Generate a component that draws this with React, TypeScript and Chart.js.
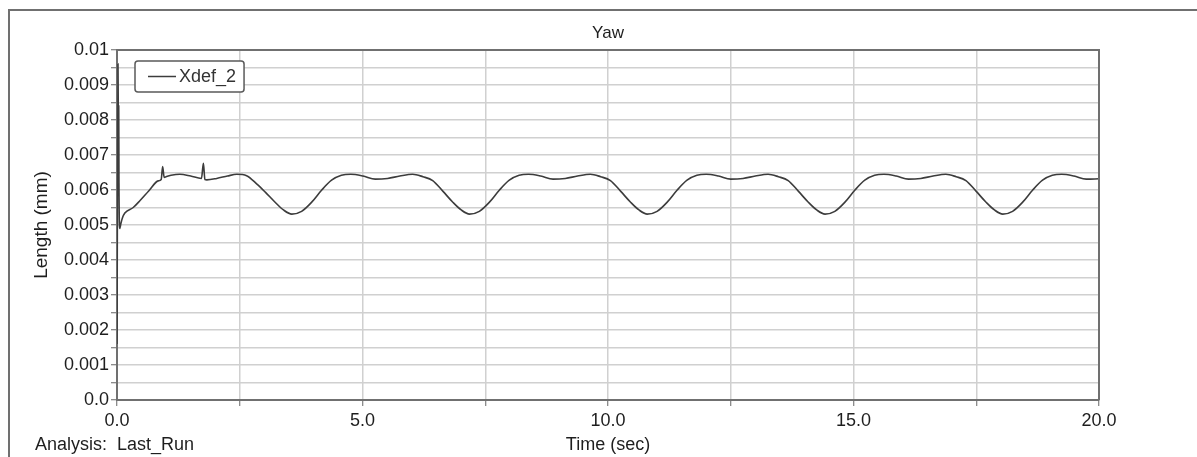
import React, { useEffect, useRef } from "react";
import { Chart, registerables } from "chart.js";

Chart.register(...registerables);

const FONT = "'Liberation Sans', Arial, Helvetica, sans-serif";

const chartTitle = "Yaw";
const xTitle = "Time (sec)";
const yTitle = "Length (mm)";
const seriesLabel = "Xdef_2";
const analysisLabel = "Analysis:  Last_Run";

const timeSec = [
  0, 0.02, 0.025, 0.03, 0.035, 0.04, 0.055, 0.08, 0.11, 0.16, 0.33, 0.47, 0.65, 0.84, 0.9, 0.93, 0.96, 1.0,
  1.1, 1.28, 1.5, 1.72, 1.76, 1.79, 1.83, 2.03, 2.25, 2.44, 2.64, 2.85, 3.02, 3.22, 3.39, 3.56, 3.76, 3.97,
  4.17, 4.37, 4.57, 4.76, 5.01, 5.26, 5.51, 5.76, 6.02, 6.23, 6.43, 6.64, 6.84, 7.01, 7.18, 7.38, 7.59, 7.79,
  7.99, 8.19, 8.38, 8.63, 8.88, 9.13, 9.38, 9.64, 9.85, 10.05, 10.26, 10.46, 10.63, 10.8, 11.0, 11.21, 11.41,
  11.61, 11.81, 12.0, 12.25, 12.5, 12.75, 13.0, 13.26, 13.47, 13.67, 13.88, 14.08, 14.25, 14.42, 14.62, 14.83,
  15.03, 15.23, 15.43, 15.62, 15.87, 16.12, 16.37, 16.62, 16.88, 17.09, 17.29, 17.5, 17.7, 17.87, 18.04, 18.24,
  18.45, 18.65, 18.85, 19.05, 19.24, 19.49, 19.74, 20.0,
];

const xdef2 = [
  0.0016, 0.0096, 0.0085, 0.0063, 0.0084, 0.0062, 0.0049, 0.00505, 0.0052, 0.00534, 0.0055, 0.0057, 0.00598,
  0.00626, 0.0063, 0.00667, 0.00636, 0.00638, 0.00642, 0.00645, 0.0064, 0.00633, 0.00676, 0.0063, 0.00629,
  0.00633, 0.0064, 0.00645, 0.00641, 0.00617, 0.00594, 0.00565, 0.00543, 0.00531, 0.00539, 0.00566, 0.006,
  0.00628, 0.00642, 0.00645, 0.0064, 0.00631, 0.00633, 0.0064, 0.00645, 0.00638, 0.00627, 0.00596, 0.00565,
  0.00543, 0.00531, 0.00539, 0.00566, 0.006, 0.00628, 0.00642, 0.00645, 0.0064, 0.00631, 0.00633, 0.0064,
  0.00645, 0.00638, 0.00627, 0.00596, 0.00565, 0.00543, 0.00531, 0.00539, 0.00566, 0.006, 0.00628, 0.00642,
  0.00645, 0.0064, 0.00631, 0.00633, 0.0064, 0.00645, 0.00638, 0.00627, 0.00596, 0.00565, 0.00543, 0.00531,
  0.00539, 0.00566, 0.006, 0.00628, 0.00642, 0.00645, 0.0064, 0.00631, 0.00633, 0.0064, 0.00645, 0.00638,
  0.00627, 0.00596, 0.00565, 0.00543, 0.00531, 0.00539, 0.00566, 0.006, 0.00628, 0.00642, 0.00645, 0.0064,
  0.00631, 0.00632,
];

const xTickValues = [0, 2.5, 5, 7.5, 10, 12.5, 15, 17.5, 20];
const xTickLabels = ["0.0", "", "5.0", "", "10.0", "", "15.0", "", "20.0"];

const yTickValues = [
  0, 0.0005, 0.001, 0.0015, 0.002, 0.0025, 0.003, 0.0035, 0.004, 0.0045, 0.005, 0.0055, 0.006, 0.0065, 0.007,
  0.0075, 0.008, 0.0085, 0.009, 0.0095, 0.01,
];
const yTickLabels = [
  "0.0", "", "0.001", "", "0.002", "", "0.003", "", "0.004", "", "0.005", "", "0.006", "", "0.007", "", "0.008",
  "", "0.009", "", "0.01",
];

const TEXT = "#1e1e1e";

const plotFramePlugin = {
  id: "plotFrame",
  afterDraw(chart: any) {
    const { ctx, chartArea } = chart;
    ctx.save();
    ctx.strokeStyle = "#707070";
    ctx.lineWidth = 2;
    ctx.beginPath();
    ctx.moveTo(chartArea.left, chartArea.top);
    ctx.lineTo(chartArea.right, chartArea.top);
    ctx.lineTo(chartArea.right, chartArea.bottom);
    ctx.stroke();
    ctx.restore();
  },
};

const legendBoxPlugin = {
  id: "legendBox",
  afterDatasetsDraw(chart: any) {
    const { ctx, chartArea } = chart;
    const ds = chart.data.datasets[0];
    ctx.save();
    ctx.font = `18px ${FONT}`;
    const tw = ctx.measureText(ds.label).width;
    const x0 = chartArea.left + 18;
    const y0 = chartArea.top + 11;
    const padL = 13;
    const lineLen = 28;
    const gap = 3;
    const padR = 8;
    const h = 31;
    const w = padL + lineLen + gap + tw + padR;
    ctx.beginPath();
    ctx.roundRect(x0, y0, w, h, 3);
    ctx.fillStyle = "#ffffff";
    ctx.fill();
    ctx.strokeStyle = "#5a5a5a";
    ctx.lineWidth = 1.5;
    ctx.stroke();
    ctx.beginPath();
    ctx.moveTo(x0 + padL, y0 + h / 2);
    ctx.lineTo(x0 + padL + lineLen, y0 + h / 2);
    ctx.strokeStyle = ds.borderColor;
    ctx.lineWidth = 1.5;
    ctx.stroke();
    ctx.fillStyle = "#333";
    ctx.textBaseline = "middle";
    ctx.textAlign = "left";
    ctx.fillText(ds.label, x0 + padL + lineLen + gap, y0 + h / 2 + 1);
    ctx.restore();
  },
};

const analysisPlugin = {
  id: "analysisText",
  afterDraw(chart: any) {
    const { ctx, chartArea } = chart;
    ctx.save();
    ctx.font = `18px ${FONT}`;
    ctx.fillStyle = TEXT;
    ctx.textBaseline = "middle";
    ctx.textAlign = "left";
    ctx.fillText(analysisLabel, 35, chartArea.bottom + 45);
    ctx.restore();
  },
};

export default function App() {
  const canvasRef = useRef<HTMLCanvasElement | null>(null);

  useEffect(() => {
    const canvas = canvasRef.current;
    if (!canvas) return;
    const points = timeSec.map((t, i) => ({ x: t, y: xdef2[i] }));
    const chart = new Chart(canvas, {
      type: "line",
      data: {
        datasets: [
          {
            label: seriesLabel,
            data: points,
            borderColor: "#3c3c3c",
            backgroundColor: "#3c3c3c",
            borderWidth: 1.6,
            pointRadius: 0,
            cubicInterpolationMode: "monotone",
            fill: false,
          },
        ],
      },
      options: {
        animation: false,
        responsive: false,
        events: [],
        layout: { padding: { left: 0, right: 98, top: 0, bottom: 0 } },
        plugins: {
          legend: { display: false },
          tooltip: { enabled: false },
          title: {
            display: true,
            text: chartTitle,
            fullSize: false,
            color: TEXT,
            font: { family: FONT, size: 17, weight: "normal" },
            padding: { top: 23, bottom: 6.6 },
          },
        },
        scales: {
          x: {
            type: "linear",
            min: 0,
            max: 20,
            afterBuildTicks: (s: any) => {
              s.ticks = xTickValues.map((v) => ({ value: v }));
            },
            afterFit: (s: any) => {
              s.height = 57;
            },
            ticks: {
              autoSkip: false,
              maxRotation: 0,
              padding: 4,
              color: TEXT,
              font: { family: FONT, size: 18 },
              callback: (_v: any, i: number) => xTickLabels[i],
            },
            grid: {
              color: "#d0d0d0",
              lineWidth: 1.5,
              tickLength: 6,
              tickColor: "#666",
              tickWidth: 1,
            },
            border: { display: true, color: "#707070", width: 2 },
            title: {
              display: true,
              text: xTitle,
              color: TEXT,
              font: { family: FONT, size: 18 },
              padding: { top: 0, bottom: 1 },
            },
          },
          y: {
            type: "linear",
            min: 0,
            max: 0.01,
            afterBuildTicks: (s: any) => {
              s.ticks = yTickValues.map((v) => ({ value: v }));
            },
            afterFit: (s: any) => {
              s.width = 117;
            },
            ticks: {
              autoSkip: false,
              padding: 2,
              color: TEXT,
              font: { family: FONT, size: 18 },
              callback: (_v: any, i: number) => yTickLabels[i],
            },
            grid: {
              color: "#d0d0d0",
              lineWidth: 1.5,
              tickLength: 6,
              tickColor: "#666",
              tickWidth: 1,
            },
            border: { display: true, color: "#707070", width: 2 },
            title: {
              display: true,
              text: yTitle,
              color: TEXT,
              font: { family: FONT, size: 19 },
              padding: { top: 30, bottom: 0 },
            },
          },
        },
      },
      plugins: [plotFramePlugin, legendBoxPlugin, analysisPlugin],
    } as any);
    return () => chart.destroy();
  }, []);

  return (
    <div
      style={{
        position: "absolute",
        left: 0,
        top: 0,
        width: 1197,
        height: 457,
        overflow: "hidden",
        background: "#fff",
      }}
    >
      <div
        style={{
          position: "absolute",
          left: 8,
          top: 9,
          width: 1400,
          height: 700,
          borderLeft: "2px solid #707070",
          borderTop: "2px solid #707070",
        }}
      />
      <canvas
        ref={canvasRef}
        width={1197}
        height={457}
        style={{ position: "absolute", left: 0, top: 0, width: 1197, height: 457 }}
      />
    </div>
  );
}
